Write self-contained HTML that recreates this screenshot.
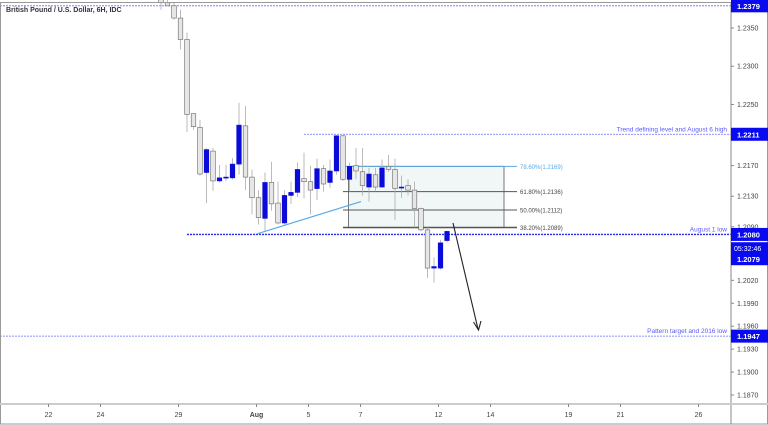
<!DOCTYPE html>
<html><head><meta charset="utf-8">
<style>
html,body{margin:0;padding:0;background:#fff;}
svg{display:block;font-family:"Liberation Sans",sans-serif;}
</style></head>
<body>
<svg id="chart" width="768" height="425" viewBox="0 0 768 425" xmlns="http://www.w3.org/2000/svg">
<rect x="0" y="0" width="768" height="425" fill="#fff"/>
<g id="fib"></g>
<g id="levels"></g>
<g id="candles"></g>
<g id="annot"></g>
<g id="axes"></g>
</svg>
<script>
// ---- data (GBP/USD 6H) ----
const opens  = [1.2387,1.2383,1.2379,1.2363,1.2335,1.2238,1.2220,1.2161,1.2189,1.2150,1.2154,1.2154,1.2172,1.2222,1.2155,1.2128,1.2101,1.2148,1.2121,1.2095,1.2131,1.2135,1.2153,1.2149,1.2140,1.2166,1.2148,1.2163,1.2209,1.2152,1.2170,1.2162,1.2142,1.2158,1.2142,1.2169,1.2165,1.2141,1.2144,1.2138,1.2114,1.2086,1.2036,1.2036,1.2072];
const highs  = [1.2387,1.2387,1.2383,1.2374,1.2344,1.2238,1.2230,1.2193,1.2193,1.2171,1.2171,1.2180,1.2252,1.2248,1.2165,1.2138,1.2161,1.2175,1.2149,1.2138,1.2149,1.2174,1.2187,1.2170,1.2179,1.2171,1.2178,1.2210,1.2210,1.2174,1.2193,1.2193,1.2167,1.2167,1.2178,1.2184,1.2179,1.2157,1.2152,1.2149,1.2115,1.2089,1.2050,1.2073,1.2085];
const lows   = [1.2374,1.2379,1.2361,1.2322,1.2214,1.2217,1.2157,1.2121,1.2137,1.2148,1.2150,1.2152,1.2158,1.2138,1.2106,1.2093,1.2084,1.2111,1.2093,1.2093,1.2120,1.2129,1.2127,1.2106,1.2125,1.2136,1.2141,1.2158,1.2150,1.2136,1.2152,1.2131,1.2123,1.2136,1.2141,1.2162,1.2099,1.2128,1.2131,1.2089,1.2084,1.2023,1.2017,1.2034,1.2070];
const closes = [1.2383,1.2379,1.2363,1.2335,1.2237,1.2221,1.2159,1.2191,1.2150,1.2154,1.2155,1.2172,1.2223,1.2155,1.2128,1.2102,1.2148,1.2120,1.2095,1.2131,1.2135,1.2165,1.2149,1.2138,1.2166,1.2146,1.2163,1.2209,1.2152,1.2169,1.2163,1.2144,1.2159,1.2142,1.2167,1.2165,1.2140,1.2142,1.2138,1.2114,1.2086,1.2036,1.2038,1.2069,1.2084];
const yTicks = [1.2350,1.2300,1.2250,1.2170,1.2130,1.2090,1.2020,1.1990,1.1960,1.1930,1.1900,1.1870];
const xLabels = ["22","24","29","Aug","5","7","12","14","19","21","26"];
const xLabelSlots = [-17,-9,3,15,23,31,43,51,63,71,83]; // candle index positions (6H bars) of each date label
const fibLevels = [0.786,0.618,0.5,0.382];
const fibPrices = [1.2169,1.2136,1.2112,1.2089];
const levelPrices = [1.2379,1.2211,1.2080,1.1947];
const levelTexts = ["","Trend defining level and August 6 high","August 1 low","Pattern target and 2016 low"];
const lastPrice = 1.2079;

// ---- scales ----
const plotRight = 731;
function y(v){ return 28 + (1.2350 - v) * 7646; }
function x(i){ return 161 + i * 6.5; }

const NS = "http://www.w3.org/2000/svg";
function mk(tag, attrs, parent){
  const e = document.createElementNS(NS, tag);
  for (const k in attrs) e.setAttribute(k, attrs[k]);
  parent.appendChild(e);
  return e;
}

// ---- fib box ----
const fib = document.getElementById('fib');
const fx0 = x(29) - 1, fx1 = 504, lx0 = x(28), lx1 = 517;
const box = mk('rect', {x: fx0, y: y(fibPrices[0]), width: fx1 - fx0, height: y(fibPrices[3]) - y(fibPrices[0]), fill: '#f1f7f7', stroke: '#777', 'stroke-width': 1}, fib);


fibLevels.forEach((lv, k) => {
  const yy = y(fibPrices[k]);
  const col = k === 0 ? '#5aa9e6' : '#555';
  const ln = mk('line', {x1: lx0, y1: yy, x2: lx1, y2: yy, stroke: col, 'stroke-width': k === 3 ? 1.5 : 1}, fib);
  
  
  const t = mk('text', {x: 520, y: yy + 2.5, 'font-size': 6, fill: k === 0 ? '#5aa9e6' : '#444'}, fib);
  t.textContent = (lv * 100).toFixed(2) + '%(' + fibPrices[k].toFixed(4) + ')';
  
  
});

// ---- horizontal levels ----
const lev = document.getElementById('levels');
const levStarts = [0, 304, 187, 0];
levelPrices.forEach((p, k) => {
  const yy = y(p);
  const ln = mk('line', {x1: levStarts[k], y1: yy, x2: plotRight, y2: yy, stroke: k === 2 ? '#2a2aee' : '#6b6bff', 'stroke-width': k === 2 ? 1.4 : 0.8, 'stroke-dasharray': '2,1'}, lev);
  
  
  if (levelTexts[k]) {
    const t = mk('text', {x: 727, y: yy - 3, 'font-size': 6.5, fill: '#5a5aff', 'text-anchor': 'end'}, lev);
    t.textContent = levelTexts[k];
    
    
  }
});

// ---- candles ----
const cg = document.getElementById('candles');
opens.forEach((o, i) => {
  const c = closes[i], h = highs[i], l = lows[i];
  const cx = x(i);
  const up = c >= o;
  const w = mk('line', {x1: cx, y1: y(h), x2: cx, y2: y(l), stroke: '#aaa', 'stroke-width': 0.8}, cg);
  
  
  const top = y(Math.max(o, c)), bot = y(Math.min(o, c));
  const b = mk('rect', {x: cx - 2.3, y: top, width: 4.6, height: Math.max(1, bot - top), fill: up ? '#0b0bd9' : '#e6e6e6', stroke: up ? '#0b0bd9' : '#666', 'stroke-width': 0.6}, cg);
  
  
});

// ---- annotations ----
const an = document.getElementById('annot');
const tl = mk('line', {x1: x(15) - 1, y1: y(1.2081), x2: x(30) + 5, y2: y(1.2123), stroke: '#5aa9e6', 'stroke-width': 1.2}, an);


const ar = mk('line', {x1: 453, y1: 223, x2: 478, y2: 329, stroke: '#222', 'stroke-width': 1.1}, an);


const ah = mk('path', {d: 'M473.5,322 L478.5,330 L481,321', fill: 'none', stroke: '#222', 'stroke-width': 1.1}, an);


const title = mk('text', {x: 6, y: 12, 'font-size': 7, 'font-weight': 'bold', fill: '#333'}, an);
title.textContent = 'British Pound / U.S. Dollar, 6H, IDC';



// ---- axes ----
const ax = document.getElementById('axes');
mk('rect', {x: 0.5, y: 2.5, width: 767, height: 421.5, fill: 'none', stroke: '#999', 'stroke-width': 1}, ax);
mk('line', {x1: plotRight, y1: 2, x2: plotRight, y2: 424, stroke: '#888', 'stroke-width': 1}, ax);
mk('line', {x1: 0, y1: 404, x2: 768, y2: 404, stroke: '#ccc', 'stroke-width': 2}, ax);
yTicks.forEach(v => {
  const yy = y(v);
  const tk = mk('line', {x1: plotRight, y1: yy, x2: plotRight + 3, y2: yy, stroke: '#888'}, ax);
  
  
  const t = mk('text', {x: 737, y: yy + 2.5, 'font-size': 7, fill: '#444'}, ax);
  t.textContent = v.toFixed(4);
  
  
});
xLabels.forEach((s, k) => {
  const xx = x(xLabelSlots[k]) - 2;
  const tk = mk('line', {x1: xx, y1: 404, x2: xx, y2: 407, stroke: '#888'}, ax);
  
  
  const t = mk('text', {x: xx, y: 417, 'font-size': 7, fill: '#444', 'text-anchor': 'middle', 'font-weight': s === 'Aug' ? 'bold' : 'normal'}, ax);
  t.textContent = s;
  
  
});
// price badges
levelPrices.forEach(p => {
  const yy = y(p);
  const r = mk('rect', {x: plotRight, y: yy - 6.5, width: 37, height: 13, fill: '#0a0af0'}, ax);
  
  
  const t = mk('text', {x: 737, y: yy + 3, 'font-size': 7.5, fill: '#fff', 'font-weight': 'bold'}, ax);
  t.textContent = p.toFixed(4);
  
  
});
const ly = y(lastPrice);
const lb = mk('rect', {x: plotRight, y: ly + 7, width: 37, height: 23, fill: '#0a0af0'}, ax);


const ct = mk('text', {x: 734, y: ly + 16, 'font-size': 7, fill: '#fff'}, ax);
ct.textContent = '05:32:46';


const lt = mk('text', {x: 737, y: ly + 27, 'font-size': 7.5, fill: '#fff', 'font-weight': 'bold'}, ax);
lt.textContent = lastPrice.toFixed(4);


</script>
</body></html>
